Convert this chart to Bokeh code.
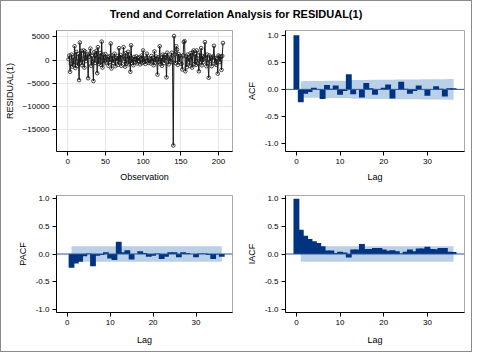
import numpy as np
from bokeh.plotting import figure
from bokeh.layouts import column, row
from bokeh.models import Div, Range1d, FixedTicker, Span, NumeralTickFormatter
from bokeh.embed import file_html
from bokeh.resources import INLINE

TITLE = "Trend and Correlation Analysis for RESIDUAL(1)"

residual = [
    200, 1000, -2500, -800, 1200, -1400, 600, -1000, 3000, -1700,
    1800, -300, -1200, 1300, -4300, 3800, -500, 2000, -1100, 300,
    2100, -1600, 1900, -200, 800, 1200, -3900, 700, 1400, 2500,
    -1200, 900, -300, -4500, 1700, -600, 1000, 2000, -2800, 2800,
    -800, 200, 1500, -1000, 4000, -1600, 1200, -700, 500, 1300,
    -500, 300, 700, -1200, 800, -400, 3600, -1800, 1000, -600,
    300, 1400, -1300, 500, -200, 900, -1000, 2600, -500, 1100,
    -1200, 400, 700, 2800, -300, -1400, 1500, -700, 200, 1800,
    -900, 1000, -2500, 3200, -600, 300, -1100, 700, 200, -400,
    800, -700, 500, -100, 600, -900, 300, 1000, -600, 2100,
    -400, 300, -800, 500, 1400, -200, -600, 400, 200, -700,
    900, -300, 500, -1100, 1900, -500, 800, 300, -3100, 600,
    -400, 3000, -800, 500, -1200, 1200, 200, -600, 1100, 600,
    -3700, 1600, 400, -900, 700, -300, 500, 1600, -500, -18400,
    5200, 1200, -600, 3000, 2300, -1000, 1300, -400, 900, 600,
    -800, -2000, 1000, 3900, 4100, -2400, 800, -1500, 1200, -300,
    600, -1200, 1500, 900, -1600, 1700, 2100, -800, 1300, -1000,
    2100, 400, -700, -2400, 1600, -300, 2600, -1100, 900, -400,
    700, 3900, 400, -1300, 1200, -600, -3800, 1000, -200, 600,
    -1300, 500, 800, 3100, -700, 400, -1000, 300, -2900, 1000,
    800, -400, 700, -2100, 900, 3700,
]
observation = list(range(1, len(residual) + 1))

acf_lags = list(range(0, 37))
acf = [1.0, -0.24, -0.08, -0.05, 0.03, -0.01, -0.18, 0.08, 0.01, 0.07,
       -0.10, -0.03, 0.28, -0.09, 0.0, -0.15, 0.12, 0.02, -0.10, 0.0,
       0.03, 0.09, -0.17, 0.0, 0.14, 0.01, -0.08, -0.03, 0.07, 0.0,
       -0.12, 0.0, 0.06, 0.01, -0.13, 0.02, 0.02]
band_lags = list(range(1, 37))
acf_band = [0.145, 0.153, 0.154, 0.154, 0.154, 0.154, 0.158, 0.159, 0.159, 0.160,
            0.161, 0.161, 0.172, 0.173, 0.173, 0.175, 0.177, 0.177, 0.178, 0.178,
            0.178, 0.179, 0.183, 0.183, 0.185, 0.185, 0.185, 0.185, 0.186, 0.186,
            0.187, 0.187, 0.187, 0.187, 0.190, 0.190]

pacf_lags = list(range(1, 37))
pacf = [-0.25, -0.17, -0.14, -0.04, 0.01, -0.22, -0.03, -0.02, 0.03, -0.08,
        -0.11, 0.22, 0.03, 0.07, -0.10, 0.0, 0.05, 0.02, -0.05, -0.03,
        0.01, -0.09, -0.05, 0.03, 0.03, -0.06, 0.03, 0.02, 0.0, -0.06,
        0.01, 0.01, -0.02, -0.09, -0.01, -0.05]
pacf_band = 0.14

iacf_lags = list(range(0, 37))
iacf = [1.0, 0.44, 0.33, 0.27, 0.23, 0.20, 0.14, 0.065, 0.065, 0.02,
        0.04, 0.025, -0.065, 0.08, 0.08, 0.18, 0.09, 0.09, 0.11, 0.11,
        0.08, 0.06, 0.07, 0.05, 0.01, 0.04, 0.08, 0.05, 0.10, 0.10,
        0.13, 0.09, 0.085, 0.11, 0.11, 0.04, 0.035]
iacf_band = 0.14

FONT = "Liberation Sans"
BAR = "#003380"
BAND = "#BACFE8"
ZERO = "#2B5797"
OUTLINE = "#A8A8A8"


def style(p, xlabel, ylabel, label_standoff=5):
    p.xaxis.axis_label = xlabel
    p.yaxis.axis_label = ylabel
    for ax in (p.xaxis[0], p.yaxis[0]):
        ax.axis_label_text_font = FONT
        ax.axis_label_text_font_size = "9px"
        ax.axis_label_text_font_style = "normal"
        ax.axis_label_text_color = "black"
        ax.major_label_text_font = FONT
        ax.major_label_text_font_size = "8px"
        ax.major_label_text_color = "black"
        ax.major_tick_in = 0
        ax.major_tick_out = 4
        ax.minor_tick_in = 0
        ax.minor_tick_out = 0
        ax.axis_line_color = "black"
        ax.major_tick_line_color = "black"
        ax.major_label_standoff = 3
    p.yaxis[0].axis_label_standoff = 5
    p.xaxis[0].axis_label_standoff = label_standoff
    p.outline_line_color = OUTLINE
    p.background_fill_color = "white"
    p.border_fill_color = "white"


def corr_fig(w, h, left, right, top, bottom, yr):
    p = figure(width=w, height=h, output_backend="svg", toolbar_location=None,
               x_range=Range1d(-2.5, 38.5), y_range=Range1d(*yr),
               min_border_left=left, min_border_right=right,
               min_border_top=top, min_border_bottom=bottom)
    p.xgrid.visible = False
    p.ygrid.visible = False
    p.xaxis.ticker = FixedTicker(ticks=[0, 10, 20, 30])
    p.yaxis.ticker = FixedTicker(ticks=[-1.0, -0.5, 0.0, 0.5, 1.0])
    p.yaxis.formatter = NumeralTickFormatter(format="0.0")
    return p


# --- Residual series ---
p1 = figure(width=242, height=162, output_backend="svg", toolbar_location=None,
            x_range=Range1d(-15, 218.6), y_range=Range1d(-19700, 6400),
            min_border_left=55, min_border_right=11, min_border_top=8, min_border_bottom=33)
p1.xaxis.ticker = FixedTicker(ticks=[0, 50, 100, 150, 200])
p1.yaxis.ticker = FixedTicker(ticks=[-15000, -10000, -5000, 0, 5000])
p1.xgrid.grid_line_color = "#E6E6E6"
p1.ygrid.grid_line_color = "#E6E6E6"
p1.line(observation, residual, line_color="#1a1a1a", line_width=1)
p1.scatter(observation, residual, marker="circle", size=3.6, fill_color=None,
           line_color="#1a1a1a", line_width=0.8)
style(p1, "Observation", "RESIDUAL(1)")

# --- ACF ---
p2 = corr_fig(228, 162, 34, 7, 8, 33, (-1.15, 1.09))
acf_low = [-b for b in acf_band]
p2.varea(x=band_lags, y1=acf_low, y2=acf_band, fill_color=BAND)
p2.vbar(x=acf_lags, top=acf, bottom=0, width=1.35, fill_color=BAR, line_color=None)
p2.add_layout(Span(location=0, dimension="width", line_color=ZERO, line_width=1))
style(p2, "Lag", "ACF")

# --- PACF ---
p3 = corr_fig(242, 167, 55, 11, 11, 39, (-1.06, 1.06))
p3.varea(x=[pacf_lags[0], pacf_lags[-1]], y1=[-pacf_band, -pacf_band],
         y2=[pacf_band, pacf_band], fill_color=BAND)
p3.vbar(x=pacf_lags, top=pacf, bottom=0, width=1.35, fill_color=BAR, line_color=None)
p3.add_layout(Span(location=0, dimension="width", line_color=ZERO, line_width=1))
style(p3, "Lag", "PACF", label_standoff=7)

# --- IACF ---
p4 = corr_fig(228, 167, 34, 7, 11, 39, (-1.06, 1.06))
p4.varea(x=[band_lags[0], band_lags[-1]], y1=[-iacf_band, -iacf_band],
         y2=[iacf_band, iacf_band], fill_color=BAND)
p4.vbar(x=iacf_lags, top=iacf, bottom=0, width=1.35, fill_color=BAR, line_color=None)
p4.add_layout(Span(location=0, dimension="width", line_color=ZERO, line_width=1))
style(p4, "Lag", "IACF", label_standoff=7)

title = Div(text=('<div style="width:470px;text-align:center;font-family:\'Liberation Sans\';'
                  'font-weight:bold;font-size:11px;line-height:26px;color:black;">'
                  + TITLE + '</div>'), width=470, height=21, margin=0)

layout = column(title, row(p1, p2), row(p3, p4),
                styles={"border": "1px solid #8c8c8c", "background-color": "white"})

open("out.html", "w").write(file_html(layout, INLINE))
